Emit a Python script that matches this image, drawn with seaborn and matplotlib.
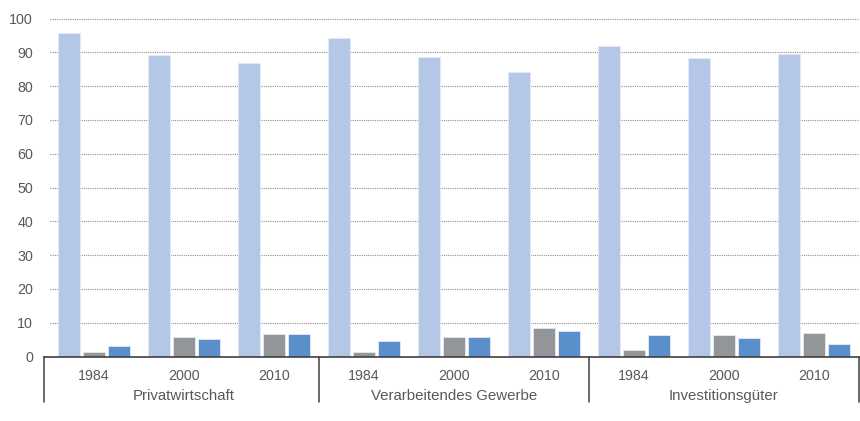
import pandas as pd
import seaborn as sns
import matplotlib.pyplot as plt

# values (percent)
categories = ['Privatwirtschaft', 'Verarbeitendes Gewerbe', 'Investitionsgüter']
years = ['1984', '2000', '2010']
series = ['Reihe 1', 'Reihe 2', 'Reihe 3']
reihe1 = [95.6, 89.1, 86.8, 94.2, 88.5, 84.3, 92.0, 88.3, 89.5]
reihe2 = [1.3, 5.7, 6.8, 1.2, 5.7, 8.3, 1.9, 6.3, 6.9]
reihe3 = [3.2, 5.1, 6.6, 4.6, 5.8, 7.5, 6.3, 5.6, 3.8]
colors = ['#b4c7e7', '#939598', '#5b8fcc']

# long table for seaborn
slots = [c + ' ' + y for c in categories for y in years]
rows = []
for name, vals in zip(series, [reihe1, reihe2, reihe3]):
    for s, v in zip(slots, vals):
        rows.append({'slot': s, 'reihe': name, 'wert': v})
df = pd.DataFrame(rows)

sns.set_style('white')
plt.rcParams['font.family'] = ['Liberation Sans', 'DejaVu Sans']

fig = plt.figure(figsize=(8.6, 4.21), dpi=100)
ax = fig.add_axes([44 / 860, 64.5 / 421, 815 / 860, 338 / 421])

sns.barplot(data=df, x='slot', y='wert', hue='reihe', order=slots, hue_order=series,
            palette=colors, saturation=1, width=0.845, gap=0.14, legend=False, ax=ax,
            edgecolor='#e4ebf6', linewidth=0.6)

ax.set_ylim(0, 100)
ax.set_xlim(-0.5 - 5 / 90, 8.5)
ax.set_yticks(range(0, 101, 10))
ax.set_xticks(range(9))
ax.set_xticklabels(years * 3)
ax.set_xlabel('')
ax.set_ylabel('')
ax.tick_params(axis='both', length=0, colors='#595959', labelsize=10.3)
ax.tick_params(axis='x', pad=9)
ax.tick_params(axis='y', pad=8)

# dotted gridlines
for y in range(10, 101, 10):
    ax.axhline(y, xmin=6 / 815, color='#8f8f8f', linestyle=(0, (1, 1)), linewidth=0.8,
               zorder=0, clip_on=False)

for sp in ['top', 'right', 'left']:
    ax.spines[sp].set_visible(False)
ax.spines['bottom'].set_color('#404040')
ax.spines['bottom'].set_linewidth(1.2)

# category labels and separators
for i, c in enumerate(categories):
    ax.text(i * 3 + 1, -0.118, c, transform=ax.get_xaxis_transform(), ha='center',
            va='center', fontsize=10.8, color='#595959')
for xpos in [-0.5 - 5 / 90, 2.5, 5.5, 8.5]:
    ax.plot([xpos, xpos], [0, -0.135], transform=ax.get_xaxis_transform(),
            color='#404040', linewidth=1.1, clip_on=False)

plt.savefig('out.png', dpi=100)
